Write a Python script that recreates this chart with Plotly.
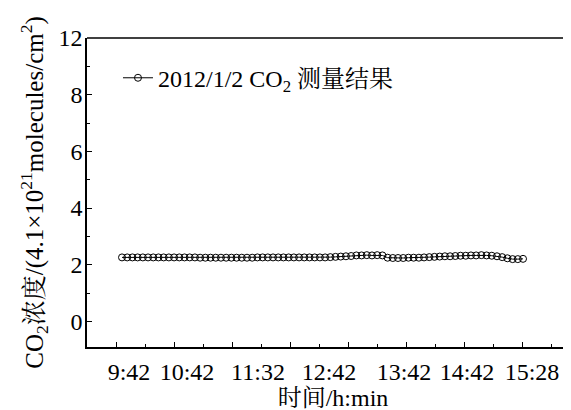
import plotly.graph_objects as go

# ---- data ----
co2_values = [
    2.26, 2.26, 2.26, 2.26, 2.26, 2.26, 2.26, 2.26, 2.26, 2.26,
    2.26, 2.26, 2.26, 2.26, 2.26, 2.25, 2.25, 2.25, 2.25, 2.25,
    2.25, 2.25, 2.25, 2.25, 2.25, 2.25, 2.26, 2.26, 2.26, 2.26,
    2.26, 2.26, 2.26, 2.26, 2.26, 2.26, 2.26, 2.26, 2.26, 2.26,
    2.27, 2.28, 2.29, 2.30, 2.31, 2.33, 2.33, 2.34, 2.33, 2.34,
    2.33, 2.25, 2.24, 2.24, 2.24, 2.25, 2.25, 2.25, 2.26, 2.27,
    2.28, 2.29, 2.30, 2.30, 2.31, 2.32, 2.32, 2.33, 2.33, 2.34,
    2.33, 2.32, 2.30, 2.27, 2.23, 2.20, 2.20, 2.21,
]
sample_index = list(range(len(co2_values)))

x_tick_labels = ["9:42", "10:42", "11:32", "12:42", "13:42", "14:42", "15:28"]
y_tick_values = [0, 2, 4, 6, 8, 10]
y_tick_labels = ["0", "2", "4", "6", "8", "12"]
series_name = "2012/1/2 CO<sub>2</sub> 测量结果"

# ---- layout helpers (positions, not data) ----
# page body has an 8px margin; figure coords = page coords - 8
OFF = 8
px_per_unit = 5.208
first_px = 122.0
def px_to_x(p):
    return (p - first_px) / px_per_unit

x_label_pos = [px_to_x(p) for p in [129, 187, 258, 329, 404, 467, 532]]
x_range = [px_to_x(87), px_to_x(571 + OFF)]
major_tick0 = px_to_x(116)
major_dtick = 58.0 / px_per_unit

FONT = "Liberation Serif, Noto Serif CJK SC, Noto Sans CJK SC, serif"

fig = go.Figure()
fig.add_trace(go.Scatter(
    x=sample_index, y=co2_values, mode="lines+markers", name=series_name,
    line=dict(color="black", width=1),
    marker=dict(symbol="circle-open", size=7, color="black", line=dict(width=1)),
    xaxis="x",
))
# invisible trace to anchor tick-mark axis
fig.add_trace(go.Scatter(x=[None], y=[None], xaxis="x2", showlegend=False,
                         hoverinfo="skip"))

fig.update_layout(
    width=571, height=410,
    margin=dict(l=87 - OFF, r=0, t=38 - OFF, b=410 - (347 - OFF), autoexpand=False),
    plot_bgcolor="white", paper_bgcolor="white",
    font=dict(family=FONT, size=22, color="black"),
    showlegend=True,
    legend=dict(x=0.063, y=0.87, xanchor="left", yanchor="middle",
                bgcolor="rgba(0,0,0,0)", font=dict(size=24, family=FONT),
                itemwidth=30),
    xaxis=dict(
        range=x_range, tickmode="array", tickvals=x_label_pos, ticktext=x_tick_labels,
        ticks="", showline=True, linecolor="black", linewidth=1.5,
        showgrid=False, zeroline=False, tickfont=dict(size=24),
        ticklabelstandoff=2, automargin=False,
        title=dict(text="时间/h:min", font=dict(size=24), standoff=6),
    ),
    xaxis2=dict(
        range=x_range, overlaying="x", anchor="y", side="bottom",
        tick0=major_tick0, dtick=major_dtick, ticks="inside", ticklen=5,
        tickcolor="black", tickwidth=1.2, showticklabels=False,
        showgrid=False, zeroline=False, showline=False, automargin=False,
        minor=dict(ticks="inside", ticklen=3, dtick=major_dtick / 2,
                   tick0=major_tick0, tickcolor="black", tickwidth=1.2),
    ),
    yaxis=dict(
        range=[-0.9, 10], tickmode="array", tickvals=y_tick_values,
        ticktext=y_tick_labels, ticks="inside", ticklen=5, tickcolor="black",
        tickwidth=1.2, showline=True, linecolor="black", linewidth=1.5,
        showgrid=False, zeroline=False, tickfont=dict(size=24), automargin=False,
        ticklabelstandoff=-2,
        minor=dict(ticks="inside", ticklen=3, dtick=1, tick0=1,
                   tickcolor="black", tickwidth=1.2),
        title=dict(text="CO<sub>2</sub>浓度/(4.1×10<sup>21</sup>molecules/cm<sup>2</sup>)",
                   font=dict(size=25), standoff=8),
    ),
    shapes=[dict(type="line", xref="paper", yref="paper", x0=0, x1=1, y0=1, y1=1,
                 line=dict(color="black", width=1.5))],
)

fig.write_html("out.html")
